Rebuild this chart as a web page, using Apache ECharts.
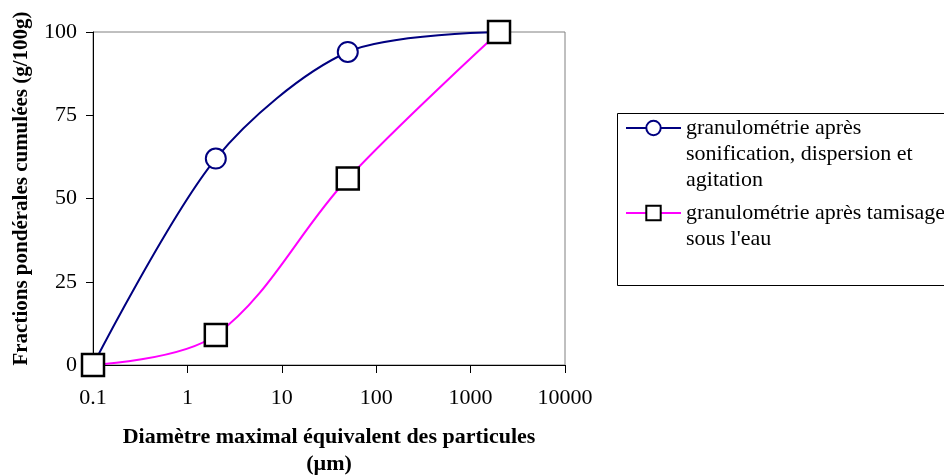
<!DOCTYPE html>
<html>
<head>
<meta charset="utf-8">
<script src="https://cdn.jsdelivr.net/npm/echarts@6/dist/echarts.min.js"></script>
<style>html,body{margin:0;padding:0;background:#fff}#c{width:944px;height:475px}</style>
</head>
<body>
<div id="c"></div>
<script>
var seriesNames = ['granulométrie après\nsonification, dispersion et\nagitation', 'granulométrie après tamisage\nsous l\'eau'];
var diameters = [0.1, 2, 50, 2000];
var sonification = [0, 62, 94, 100];
var tamisage = [0, 9, 56, 100];
var yTicks = [0, 25, 50, 75, 100];
var xTitle = 'Diamètre maximal équivalent des particules\n(µm)';
var yTitle = 'Fractions pondérales cumulées (g/100g)';

function pairs(xs, ys) { return xs.map(function (x, i) { return [x, ys[i]]; }); }

var FONT = 'Liberation Serif';
var L = 26;
var chart = echarts.init(document.getElementById('c'));
chart.setOption({
  animation: false,
  backgroundColor: '#fff',
  grid: { left: 93, right: 379, top: 32, bottom: 110, show: true, borderColor: '#808080', borderWidth: 1, outerBoundsMode: 'none', containLabel: false },
  xAxis: {
    type: 'log', logBase: 10, min: 0.1, max: 10000,
    splitLine: { show: false },
    axisLine: { lineStyle: { color: '#000', width: 1 } },
    axisTick: { length: 8, lineStyle: { color: '#000' } },
    axisLabel: { margin: 22, color: '#000', fontFamily: FONT, fontSize: 22,
      formatter: function (v) { return String(+Number(v).toPrecision(6)); } },
    name: xTitle, nameLocation: 'middle', nameGap: 59,
    nameTextStyle: { fontFamily: FONT, fontSize: 22, fontWeight: 'bold', color: '#000', lineHeight: 27 }
  },
  yAxis: {
    type: 'value', min: yTicks[0], max: yTicks[yTicks.length - 1], interval: 25,
    splitLine: { show: false },
    axisLine: { show: true, lineStyle: { color: '#000', width: 1 } },
    axisTick: { show: true, length: 7, lineStyle: { color: '#000' } },
    axisLabel: { margin: 16, color: '#000', fontFamily: FONT, fontSize: 22 },
    name: yTitle, nameLocation: 'middle', nameGap: 61,
    nameTextStyle: { fontFamily: FONT, fontSize: 21, fontWeight: 'bold', color: '#000', padding: [0, 0, 0, 20] }
  },
  legend: [
    { data: [seriesNames[0]], formatter: function (n) { return '\n\n' + n; },
      orient: 'vertical', left: 625, top: 128 - 2.5 * L, padding: 0,
      itemWidth: 55, itemHeight: 18,
      textStyle: { fontFamily: FONT, fontSize: 22, color: '#000', lineHeight: L } },
    { data: [seriesNames[1]], formatter: function (n) { return '\n' + n; },
      orient: 'vertical', left: 625, top: 213 - 1.5 * L, padding: 0,
      itemWidth: 55, itemHeight: 18,
      textStyle: { fontFamily: FONT, fontSize: 22, color: '#000', lineHeight: L } }
  ],
  graphic: [
    { type: 'rect', shape: { x: 617.5, y: 113.5, width: 400, height: 172 }, style: { fill: 'none', stroke: '#000', lineWidth: 1 }, silent: true }
  ],
  series: [
    { name: seriesNames[0], type: 'line', data: pairs(diameters, sonification), smooth: 0.3,
      symbol: 'circle', symbolSize: 20,
      lineStyle: { color: '#000080', width: 2 },
      itemStyle: { color: '#fff', borderColor: '#000080', borderWidth: 2 } },
    { name: seriesNames[1], type: 'line', data: pairs(diameters, tamisage), smooth: 0.35,
      symbol: 'rect', symbolSize: 22,
      lineStyle: { color: '#ff00ff', width: 2 },
      itemStyle: { color: '#fff', borderColor: '#000', borderWidth: 2.5 } }
  ]
});
</script>
</body>
</html>
